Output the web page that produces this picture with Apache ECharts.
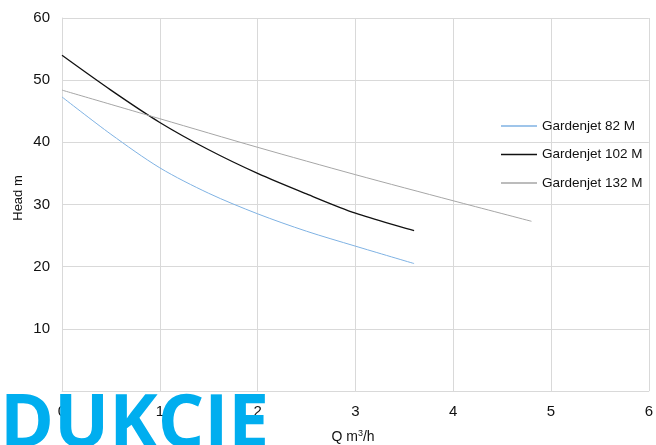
<!DOCTYPE html>
<html><head><meta charset="utf-8">
<script src="https://cdn.jsdelivr.net/npm/echarts@6/dist/echarts.min.js"></script>
<style>html,body{margin:0;padding:0;background:#fff}#c{width:656px;height:445px}</style>
</head><body><div id="c"></div>
<script>
const seriesNames = ['Gardenjet 82 M', 'Gardenjet 102 M', 'Gardenjet 132 M'];
const q82 = [0, 0.5, 1, 1.5, 2, 2.5, 3, 3.6];
const h82 = [47.3, 41.3, 35.9, 31.8, 28.5, 25.7, 23.3, 20.5];
const q102 = [0, 0.5, 1, 1.5, 2, 2.5, 3, 3.6];
const h102 = [54.0, 48.4, 43.2, 38.8, 35.0, 31.7, 28.6, 25.8];
const q132 = [0, 1, 2, 3, 4, 4.8];
const h132 = [48.4, 43.8, 39.2, 34.8, 30.6, 27.3];
const colors = ['#7fb2e3', '#111111', '#a6a6a6'];
const widths = [1, 1.3, 1];

const pairs = (xs, ys) => xs.map((x, i) => [x, ys[i]]);
const datasets = [pairs(q82, h82), pairs(q102, h102), pairs(q132, h132)];
const font = '"Liberation Sans Narrow", "Liberation Sans", Arial, sans-serif';

const chart = echarts.init(document.getElementById('c'));
chart.setOption({
  animation: false,
  grid: { left: 62, right: 4, top: 18, bottom: 54, containLabel: false },
  legend: {
    orient: 'vertical', left: 496, top: 114, itemWidth: 36, itemHeight: 1.5, itemGap: 14.5,
    icon: 'rect',
    textStyle: { fontFamily: font, fontSize: 13.5, color: '#111' },
    data: seriesNames
  },
  xAxis: {
    type: 'value', min: 0, max: 6, interval: 1,
    axisLine: { show: true, lineStyle: { color: '#d9d9d9' } },
    axisTick: { show: false },
    axisLabel: { fontFamily: font, fontSize: 15, color: '#111', margin: 13 },
    splitLine: { show: true, lineStyle: { color: '#d9d9d9' } }
  },
  yAxis: {
    type: 'value', min: 0, max: 60, interval: 10,
    axisLine: { show: true, lineStyle: { color: '#d9d9d9' } },
    axisTick: { show: false },
    axisLabel: { fontFamily: font, fontSize: 15, color: '#111', margin: 12, showMinLabel: false },
    splitLine: { show: true, lineStyle: { color: '#d9d9d9' } }
  },
  series: seriesNames.map((n, i) => ({
    name: n, type: 'line', data: datasets[i], smooth: 0.3, symbol: 'none',
    lineStyle: { color: colors[i], width: widths[i] }, itemStyle: { color: colors[i] }
  })),
  graphic: [
    {
      type: 'text', x: 18, y: 198, rotation: Math.PI / 2,
      style: { text: 'Head m', fontFamily: font, fontSize: 13, fill: '#111', align: 'center', verticalAlign: 'middle' }
    },
    {
      type: 'text', x: 353, y: 437,
      style: {
        text: 'Q m{sup|3}/h', fontFamily: font, fontSize: 14, fill: '#111', align: 'center', verticalAlign: 'middle',
        rich: { sup: { fontFamily: font, fontSize: 9, verticalAlign: 'top', padding: [0, 0, 6, 0], fill: '#111' } }
      }
    },
    {
      type: 'text', left: 0, top: 390, z: 100,
      style: { text: 'DUKCIE', fontFamily: '"Open Sans", sans-serif', fontWeight: 'bold', fontSize: 73, fill: '#00aeef' }
    }
  ]
});
</script></body></html>
